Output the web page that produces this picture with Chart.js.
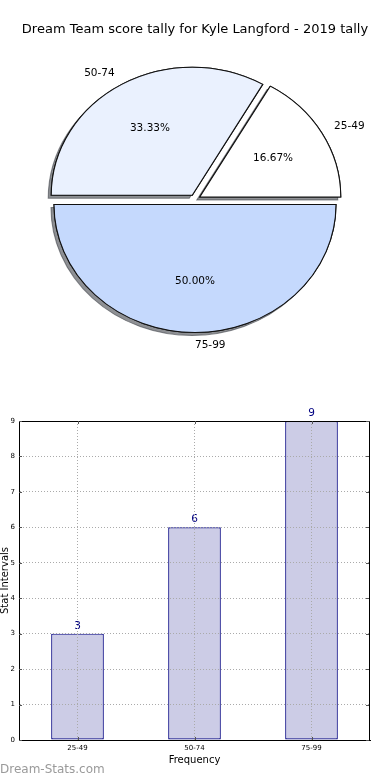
<!DOCTYPE html>
<html>
<head>
<meta charset="utf-8">
<script src="https://cdn.jsdelivr.net/npm/chart.js@4/dist/chart.umd.min.js"></script>
<style>
  html, body { margin:0; padding:0; background:#fff; }
  body { width:390px; height:780px; position:relative; overflow:hidden; font-family:"DejaVu Sans", sans-serif; }
  #title { position:absolute; left:0; top:21px; width:390px; text-align:center; font-size:13px; color:#000; white-space:nowrap; }
  #pie { position:absolute; left:0; top:0; }
  #bar { position:absolute; left:0; top:380px; }
  #wm { position:absolute; left:0; top:762px; font-size:12px; color:#9a9a9a; white-space:nowrap; }
</style>
</head>
<body>
<canvas id="pie" width="390" height="399"></canvas>
<canvas id="bar" width="390" height="400"></canvas>
<div id="title">Dream Team score tally for Kyle Langford - 2019 tally</div>
<div id="wm">Dream-Stats.com</div>
<script>
// ---- data ----
const categories = ['25-49', '50-74', '75-99'];
const counts = [3, 6, 9];
const percentLabels = ['16.67%', '33.33%', '50.00%'];
const sliceColors = ['#ffffff', '#eaf1fe', '#c5d9fd'];
const yTicks = [0, 1, 2, 3, 4, 5, 6, 7, 8, 9];

Chart.defaults.font.family = '"DejaVu Sans", sans-serif';
Chart.defaults.color = '#000';

// ---- pie (counter-clockwise from east, exploded, shadowed, stretched axes) ----
const SX = 141 / 128;
const EXPLODE = 5;
const pieOrder = [2, 1, 0]; // Chart.js draws clockwise; reversed order mimics counter-clockwise
const piePlugin = {
  id: 'piePlugin',
  beforeDatasetsDraw(chart) {
    const ctx = chart.ctx;
    const arcs = chart.getDatasetMeta(0).data;
    const pass = (shadow) => {
      arcs.forEach(arc => {
        const p = arc.getProps(['x', 'y', 'startAngle', 'endAngle'], true);
        const mid = (p.startAngle + p.endAngle) / 2;
        ctx.save();
        if (shadow) {
          ctx.shadowColor = 'rgba(50,52,60,0.55)';
          ctx.shadowOffsetX = -3;
          ctx.shadowOffsetY = 3;
          ctx.shadowBlur = 0;
        }
        ctx.translate(p.x + Math.cos(mid) * EXPLODE * SX, p.y + Math.sin(mid) * EXPLODE);
        ctx.scale(SX, 1);
        ctx.translate(-p.x, -p.y);
        arc.draw(ctx);
        ctx.restore();
      });
    };
    pass(true);
    pass(false);
    ctx.save();
    ctx.fillStyle = '#000';
    ctx.font = '10.5px "DejaVu Sans", sans-serif';
    ctx.textBaseline = 'middle';
    arcs.forEach((arc, i) => {
      const p = arc.getProps(['x', 'y', 'startAngle', 'endAngle', 'outerRadius'], true);
      const mid = (p.startAngle + p.endAngle) / 2;
      const c = Math.cos(mid), s = Math.sin(mid);
      const idx = pieOrder[i];
      const lr = EXPLODE + 1.1 * p.outerRadius;
      ctx.textAlign = c >= -1e-9 ? 'left' : 'right';
      ctx.fillText(categories[idx], p.x + c * lr * SX, p.y + s * lr);
      const pr = EXPLODE + 0.6 * p.outerRadius;
      ctx.textAlign = 'center';
      ctx.fillText(percentLabels[idx], p.x + c * pr * SX, p.y + s * pr);
    });
    ctx.restore();
    return false;
  }
};

new Chart(document.getElementById('pie'), {
  type: 'pie',
  data: {
    labels: pieOrder.map(i => categories[i]),
    datasets: [{
      data: pieOrder.map(i => counts[i]),
      backgroundColor: pieOrder.map(i => sliceColors[i]),
      borderColor: '#111111',
      borderWidth: 1,
      borderJoinStyle: 'miter'
    }]
  },
  options: {
    responsive: false, animation: false, devicePixelRatio: 1,
    rotation: 90, radius: 128,
    layout: { padding: 0 },
    plugins: { legend: { display: false }, tooltip: { enabled: false } }
  },
  plugins: [piePlugin]
});

// ---- bar ----
const barPlugin = {
  id: 'barPlugin',
  afterDatasetsDraw(chart) {
    const ctx = chart.ctx;
    const meta = chart.getDatasetMeta(0);
    ctx.save();
    ctx.fillStyle = '#000080';
    ctx.font = '10.5px "DejaVu Sans", sans-serif';
    ctx.textAlign = 'center';
    ctx.textBaseline = 'bottom';
    meta.data.forEach((bar, i) => {
      ctx.fillText(String(counts[i]), bar.x, bar.y - 2.5);
    });
    ctx.restore();
  },
  afterDraw(chart) {
    const ctx = chart.ctx;
    const a = chart.chartArea;
    const xs = chart.scales.x, ys = chart.scales.y;
    ctx.save();
    ctx.strokeStyle = '#000';
    ctx.lineWidth = 1;
    ctx.beginPath();
    ctx.rect(Math.round(a.left) + 0.5, Math.round(a.top) + 0.5, Math.round(a.right - a.left) - 1, Math.round(a.bottom - a.top));
    ctx.stroke();
    ctx.strokeStyle = '#555';
    ctx.beginPath();
    yTicks.forEach(v => {
      const y = Math.round(ys.getPixelForValue(v)) + 0.5;
      ctx.moveTo(a.left, y); ctx.lineTo(a.left + 3, y);
      ctx.moveTo(a.right - 1, y); ctx.lineTo(a.right - 4, y);
    });
    categories.forEach((c, i) => {
      const x = Math.round(xs.getPixelForValue(i)) + 0.5;
      ctx.moveTo(x, a.bottom); ctx.lineTo(x, a.bottom - 3);
      ctx.moveTo(x, a.top); ctx.lineTo(x, a.top + 3);
    });
    ctx.stroke();
    ctx.restore();
  }
};

new Chart(document.getElementById('bar'), {
  type: 'bar',
  data: {
    labels: categories,
    datasets: [{
      data: counts,
      backgroundColor: '#ccccE6',
      borderColor: '#000080',
      borderWidth: 1.2,
      borderSkipped: false,
      barPercentage: 0.45,
      categoryPercentage: 1
    }]
  },
  options: {
    responsive: false, animation: false, devicePixelRatio: 1,
    layout: { padding: { top: 41, right: 20, bottom: 0, left: 0 } },
    plugins: { legend: { display: false }, tooltip: { enabled: false } },
    scales: {
      x: {
        offset: true,
        grid: { offset: false, color: '#aaaaaa', lineWidth: 1, drawTicks: false, z: 1 },
        border: { display: true, color: '#000', width: 1, dash: [1, 2], z: 2 },
        ticks: { font: { size: 7 }, color: '#000', padding: 4, maxRotation: 0 },
        title: { display: true, text: 'Frequency', font: { size: 10, lineHeight: 1.2 }, color: '#000', padding: { top: 14, bottom: 14 } },
        afterFit(scale) { scale.height = 40; }
      },
      y: {
        min: 0, max: 9,
        grid: { color: '#aaaaaa', lineWidth: 1, drawTicks: false, z: 1 },
        border: { display: true, color: '#000', width: 1, dash: [1, 2], z: 2 },
        ticks: { stepSize: 1, font: { size: 7 }, color: '#000', padding: 4 },
        title: { display: true, text: 'Stat Intervals', font: { size: 10, lineHeight: 1 }, color: '#000', padding: 0 },
        afterFit(scale) { scale.width = 19; }
      }
    }
  },
  plugins: [barPlugin]
});
</script>
</body>
</html>
